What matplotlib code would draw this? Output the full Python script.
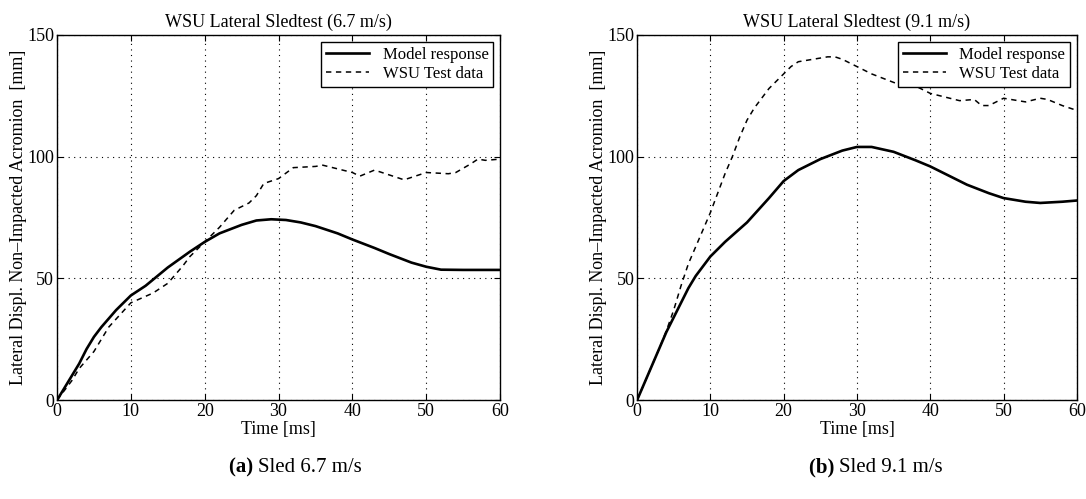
import numpy as np
import matplotlib
matplotlib.use("Agg")
import matplotlib.pyplot as plt

plt.rcParams['font.family'] = ['Liberation Serif', 'DejaVu Serif']

# (a) sled 6.7 m/s
t_model_a = [0, 1, 2, 3, 4, 5, 6, 8, 10, 12, 15, 18, 20, 22, 25, 27, 29, 31, 33, 35,
             38, 40, 43, 45, 48, 50, 52, 55, 60]
y_model_a = [0, 5, 10, 15, 21, 26, 30, 37, 43, 47, 54.5, 61, 65, 68.5, 72, 73.8, 74.3, 74, 73, 71.5,
             68.5, 66, 62.5, 60, 56.5, 54.8, 53.6, 53.5, 53.5]
t_test_a = [0, 1, 2, 3, 5, 7, 10, 13, 15, 17, 18, 20, 22, 24, 26, 27, 28, 30, 32, 35,
            36, 38, 40, 41, 43, 45, 47, 50, 53, 54, 56, 57, 58, 60]
y_test_a = [0, 4, 8, 13, 20, 30, 40, 44, 48, 55, 59, 65, 71, 78, 81, 84, 89, 91, 95.5, 96,
            96.5, 95, 93.5, 92, 94.5, 92.5, 90.5, 93.5, 93, 93.5, 97, 99, 98.5, 99]

# (b) sled 9.1 m/s
t_model_b = [0, 1, 2, 3, 4, 5, 6, 7, 8, 9, 10, 12, 15, 18, 20, 22, 25, 28, 30, 32,
             35, 38, 40, 43, 45, 48, 50, 53, 55, 58, 60]
y_model_b = [0, 7, 14, 21, 28, 34, 40, 46, 51, 55, 59, 65, 73, 83, 90, 94.5, 99, 102.5, 104, 104,
             102, 98.5, 96, 91.5, 88.5, 85, 83, 81.5, 81, 81.5, 82]
t_test_b = [0, 1, 2, 3, 4, 5, 6, 7, 8, 9, 10, 11, 12, 13, 14, 15, 16, 17, 18, 19,
            20, 21, 22, 24, 26, 27, 28, 30, 32, 35, 37, 38, 40, 42, 44, 46, 47, 48,
            50, 52, 53, 55, 56, 58, 60]
y_test_b = [0, 7, 14, 21, 28.5, 37, 47, 56, 63, 70, 77, 85, 93, 100, 108, 115, 120, 124, 128, 131,
            134, 137, 139, 140, 141, 141, 140, 137, 134, 130.5, 128.5, 129, 126, 124.5, 123, 123.5, 121, 121,
            124, 123, 122.5, 124, 123.5, 121, 119]

titles = ["WSU Lateral Sledtest (6.7 m/s)", "WSU Lateral Sledtest (9.1 m/s)"]
captions = ["Sled 6.7 m/s", "Sled 9.1 m/s"]
letters = ["(a)", "(b)"]


def draw(ax, tm, ym, tt, yt, title):
  ax.plot(tm, ym, 'k-', lw=1.9, label="Model response")
  ax.plot(tt, yt, 'k--', lw=1.1, dashes=(3.5, 3), label="WSU Test data")
  ax.set_xlim(0, 60)
  ax.set_ylim(0, 150)
  ax.set_xticks([0, 10, 20, 30, 40, 50, 60])
  ax.set_yticks([0, 50, 100, 150])
  ax.grid(True, color='k', ls=(0, (1, 4)), lw=0.8)
  ax.tick_params(direction='in', labelsize=13, length=4, top=True, right=True, pad=2)
  ax.set_title(title, fontsize=13, pad=6)
  ax.set_xlabel("Time [ms]", fontsize=13, labelpad=1)
  ax.set_ylabel("Lateral Displ. Non\u2013Impacted Acromion  [mm]", fontsize=13, labelpad=0)
  leg = ax.legend(loc='upper right', fontsize=12, fancybox=False, framealpha=1,
                  edgecolor='k', borderaxespad=0.4, handlelength=2.6,
                  borderpad=0.3, labelspacing=0.2)
  leg.get_frame().set_linewidth(1.0)
  for s in ax.spines.values():
    s.set_linewidth(1.0)


fig = plt.figure(figsize=(10.86, 4.99), dpi=100)
axa = fig.add_axes([0.0525, 0.198, 0.408, 0.732])
axb = fig.add_axes([0.5866, 0.198, 0.405, 0.732])
draw(axa, t_model_a, y_model_a, t_test_a, y_test_a, titles[0])
draw(axb, t_model_b, y_model_b, t_test_b, y_test_b, titles[1])

for cx, let, cap in zip([0.238, 0.773], letters, captions):
  fig.text(cx, 0.064, let + " ", fontsize=15, fontweight='bold', ha='right', va='center')
  fig.text(cx, 0.064, cap, fontsize=15, ha='left', va='center')

fig.savefig("out.png", dpi=100)
plt.close()
